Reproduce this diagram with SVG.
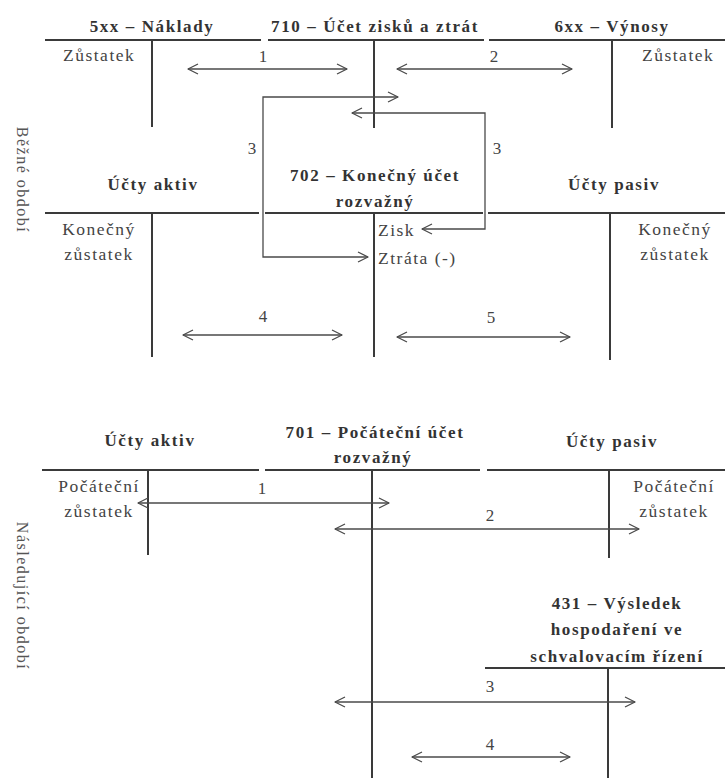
<svg xmlns="http://www.w3.org/2000/svg" width="725" height="781" viewBox="0 0 725 781">
<style>
.acc{stroke:#3a3a3a;stroke-width:2;fill:none}
.con{stroke:#4a4a4a;stroke-width:1.3;fill:none}
.ttl{font-family:"Liberation Serif","Times New Roman",serif;font-size:17px;font-weight:bold;letter-spacing:1.6px;fill:#333;text-anchor:middle}
.txt{font-family:"Liberation Serif","Times New Roman",serif;font-size:17.5px;letter-spacing:1.5px;fill:#444}
.num{font-family:"Liberation Serif","Times New Roman",serif;font-size:17px;fill:#444;text-anchor:middle}
.mid{text-anchor:middle}
.side{font-family:"Liberation Serif","Times New Roman",serif;font-size:16px;letter-spacing:1.5px;fill:#555;text-anchor:middle}
</style>
<defs>
<marker id="ah" markerUnits="userSpaceOnUse" markerWidth="14" markerHeight="14" refX="10" refY="5" orient="auto-start-reverse" overflow="visible">
<path d="M0,0 L10,5 L0,10" fill="none" stroke="#4a4a4a" stroke-width="1.3" stroke-linejoin="round"/>
</marker>
</defs>
<rect width="725" height="781" fill="#fff"/>

<g id="side-labels">
<text class="side" transform="translate(17,180) rotate(90)">Běžné období</text>
<text class="side" transform="translate(17,596) rotate(90)">Následující období</text>
</g>

<g id="acc-5xx">
<path class="acc" d="M45,40 H261 M152,40 V127"/>
<text class="ttl" x="152" y="32">5xx – Náklady</text>
<text class="txt" x="63" y="61">Zůstatek</text>
</g>

<g id="acc-710">
<path class="acc" d="M268,40 H484 M374,40 V128"/>
<text class="ttl" x="375" y="32">710 – Účet zisků a ztrát</text>
</g>

<g id="acc-6xx">
<path class="acc" d="M489,40 H725 M612,40 V128"/>
<text class="ttl" x="612" y="32">6xx – Výnosy</text>
<text class="txt" x="642" y="61">Zůstatek</text>
</g>

<g id="acc-aktiv-1">
<path class="acc" d="M45,213 H259 M152,213 V357"/>
<text class="ttl" x="153" y="190">Účty aktiv</text>
<text class="txt mid" x="99" y="235">Konečný</text>
<text class="txt mid" x="99" y="260">zůstatek</text>
</g>

<g id="acc-702">
<path class="acc" d="M265,213 H483 M374,213 V357"/>
<text class="ttl" x="375" y="181">702 – Konečný účet</text>
<text class="ttl" x="375" y="207">rozvažný</text>
<text class="txt" x="378" y="236">Zisk</text>
<text class="txt" x="378" y="264">Ztráta (-)</text>
</g>

<g id="acc-pasiv-1">
<path class="acc" d="M488,213 H725 M610,213 V360"/>
<text class="ttl" x="614" y="190">Účty pasiv</text>
<text class="txt mid" x="675" y="235">Konečný</text>
<text class="txt mid" x="675" y="260">zůstatek</text>
</g>

<g id="acc-aktiv-2">
<path class="acc" d="M42,470 H259 M148,470 V555"/>
<text class="ttl" x="150" y="446">Účty aktiv</text>
<text class="txt mid" x="99" y="492">Počáteční</text>
<text class="txt mid" x="99" y="517">zůstatek</text>
</g>

<g id="acc-701">
<path class="acc" d="M265,470 H480 M372,470 V778"/>
<text class="ttl" x="375" y="438">701 – Počáteční účet</text>
<text class="ttl" x="373" y="463">rozvažný</text>
</g>

<g id="acc-pasiv-2">
<path class="acc" d="M487,470 H725 M609,470 V558"/>
<text class="ttl" x="612" y="447">Účty pasiv</text>
<text class="txt mid" x="674" y="492">Počáteční</text>
<text class="txt mid" x="674" y="517">zůstatek</text>
</g>

<g id="acc-431">
<path class="acc" d="M485,668 H725 M608,668 V778"/>
<text class="ttl" x="617" y="609">431 – Výsledek</text>
<text class="ttl" x="617" y="635">hospodaření ve</text>
<text class="ttl" x="617" y="662">schvalovacím řízení</text>
</g>

<g id="connectors">
<path class="con" d="M188,69 H347" marker-start="url(#ah)" marker-end="url(#ah)"/>
<text class="num" x="263" y="62">1</text>
<path class="con" d="M397,69 H572" marker-start="url(#ah)" marker-end="url(#ah)"/>
<text class="num" x="494" y="62">2</text>
<path class="con" d="M398,97 H263 V257 H368" marker-start="url(#ah)" marker-end="url(#ah)"/>
<text class="num" x="252" y="154">3</text>
<path class="con" d="M352,113 H485 V229 H422" marker-start="url(#ah)" marker-end="url(#ah)"/>
<text class="num" x="497" y="154">3</text>
<path class="con" d="M183,335 H342" marker-start="url(#ah)" marker-end="url(#ah)"/>
<text class="num" x="263" y="322">4</text>
<path class="con" d="M397,337 H570" marker-start="url(#ah)" marker-end="url(#ah)"/>
<text class="num" x="491" y="323">5</text>
<path class="con" d="M138,503 H389" marker-start="url(#ah)" marker-end="url(#ah)"/>
<text class="num" x="262" y="494">1</text>
<path class="con" d="M335,529 H639" marker-start="url(#ah)" marker-end="url(#ah)"/>
<text class="num" x="490" y="521">2</text>
<path class="con" d="M335,702 H635" marker-start="url(#ah)" marker-end="url(#ah)"/>
<text class="num" x="490" y="692">3</text>
<path class="con" d="M412,757 H570" marker-start="url(#ah)" marker-end="url(#ah)"/>
<text class="num" x="490" y="750">4</text>
</g>
</svg>
